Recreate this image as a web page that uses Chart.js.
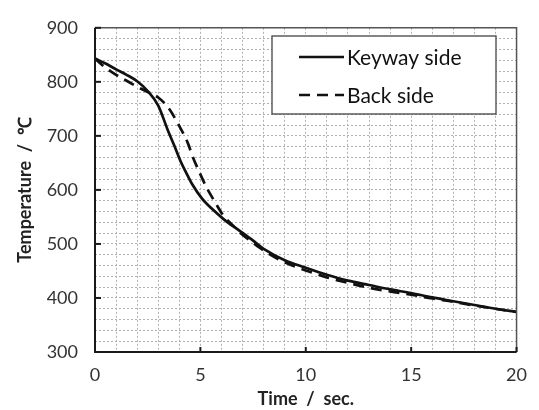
<!DOCTYPE html>
<html>
<head>
<meta charset="utf-8">
<script src="https://cdn.jsdelivr.net/npm/chart.js@4.4.1/dist/chart.umd.min.js"></script>
<style>
html,body{margin:0;padding:0;background:#fff;}
#wrap{position:relative;width:539px;height:410px;}
</style>
</head>
<body>
<div id="wrap"><canvas id="c" width="539" height="410"></canvas></div>
<script>
// Data
const timeKeyway = [0,0.5,1,1.5,2,2.5,3,3.44,3.76,4.07,4.3,4.62,5.08,5.55,6.1,6.8,7.5,8,9,10,11,12,13,14,15,16,17,18,19,20];
const tempKeyway = [843,834,823,813,801,783,756,712,682,652,634,610,584,565,546,526,506,491,470,456,443,432,424,416,409,401,394,387,380,374];
const timeBack = [0,0.5,1,1.5,2,2.5,3,3.5,4,4.4,4.65,4.95,5.3,5.7,6.1,6.6,7,7.5,8,9,10,11,12,13,14,15,16,17,18,19,20];
const tempBack = [843,826,813,802,791,781,771,751,718,687,660,633,604,577,552,532,517,502,488,466,451,438,428,419,412,406,399,393,386,380,374];
const seriesNames = ["Keyway side","Back side"];
const xTickLabels = [0,5,10,15,20];
const yTickLabels = [300,400,500,600,700,800,900];

const FONT = "Lato, 'Open Sans', sans-serif";
const toPts = (xs, ys) => xs.map((x,i)=>({x:x,y:ys[i]}));

const framePlugin = {
  id:'frame',
  afterDraw(chart){
    const {ctx, chartArea:a, scales} = chart;
    ctx.save();
    ctx.strokeStyle = '#555';
    ctx.lineWidth = 1.5;
    ctx.beginPath();
    ctx.moveTo(a.left, a.top); ctx.lineTo(a.right, a.top); ctx.lineTo(a.right, a.bottom);
    ctx.stroke();
    ctx.strokeStyle = '#1a1a1a';
    ctx.lineWidth = 2;
    ctx.beginPath();
    ctx.moveTo(a.left, a.top); ctx.lineTo(a.left, a.bottom); ctx.lineTo(a.right, a.bottom);
    ctx.stroke();
    yTickLabels.forEach(v=>{
      const y = scales.y.getPixelForValue(v);
      ctx.beginPath(); ctx.moveTo(a.left, y); ctx.lineTo(a.left+6, y); ctx.stroke();
    });
    xTickLabels.forEach(v=>{
      const x = scales.x.getPixelForValue(v);
      ctx.beginPath(); ctx.moveTo(x, a.bottom); ctx.lineTo(x, a.bottom-5); ctx.stroke();
    });
    const L=272, T=36, R=496, B=114;
    ctx.fillStyle='#fff';
    ctx.fillRect(L,T,R-L,B-T);
    ctx.strokeStyle='#444'; ctx.lineWidth=1.3;
    ctx.strokeRect(L,T,R-L,B-T);
    const rows=[57,95];
    chart.data.datasets.forEach((ds,i)=>{
      ctx.strokeStyle='#111'; ctx.lineWidth=2.5;
      ctx.setLineDash(ds.borderDash||[]);
      ctx.beginPath(); ctx.moveTo(299,rows[i]); ctx.lineTo(344,rows[i]); ctx.stroke();
      ctx.setLineDash([]);
      ctx.fillStyle='#111';
      ctx.font = "21px " + FONT;
      ctx.textBaseline='middle'; ctx.textAlign='left';
      ctx.fillText(seriesNames[i], 347, rows[i]+1);
    });
    ctx.restore();
  }
};

new Chart(document.getElementById('c'), {
  type:'line',
  data:{
    datasets:[
      {label:seriesNames[0], data:toPts(timeKeyway,tempKeyway), borderColor:'#111', borderWidth:2.7, pointRadius:0, cubicInterpolationMode:'monotone', fill:false},
      {label:seriesNames[1], data:toPts(timeBack,tempBack), borderColor:'#111', borderWidth:2.7, borderDash:[11,7], pointRadius:0, cubicInterpolationMode:'monotone', fill:false}
    ]
  },
  options:{
    responsive:false, animation:false,
    layout:{padding:{left:0, top:19, right:18, bottom:0}},
    plugins:{legend:{display:false}, tooltip:{enabled:false}},
    scales:{
      x:{
        type:'linear', min:0, max:20,
        border:{display:false, dash:[2,2]},
        grid:{color:'#b0b0b0', lineWidth:1, drawTicks:false},
        ticks:{stepSize:1, autoSkip:false, maxRotation:0, minRotation:0, padding:12, color:'#333', font:{family:FONT, size:18},
          callback:(v)=> xTickLabels.includes(v) ? String(v) : ''},
        title:{display:true, text:'Time  /  sec.', color:'#222', font:{family:FONT, size:18, weight:'bold'}, padding:{top:0,bottom:0}},
        afterFit(s){ s.height = 58; }
      },
      y:{
        min:300, max:900,
        border:{display:false, dash:[2,2]},
        grid:{color:'#b0b0b0', lineWidth:1, drawTicks:false},
        ticks:{stepSize:20, autoSkip:false, padding:17, color:'#333', font:{family:FONT, size:18},
          callback:(v)=> yTickLabels.includes(v) ? String(v) : ''},
        title:{display:true, text:'Temperature  /  ℃', color:'#222', font:{family:FONT, size:18, weight:'bold'}, padding:{top:14,bottom:0}},
        afterFit(s){ s.width = 95; }
      }
    }
  },
  plugins:[framePlugin]
});
</script>
</body>
</html>
